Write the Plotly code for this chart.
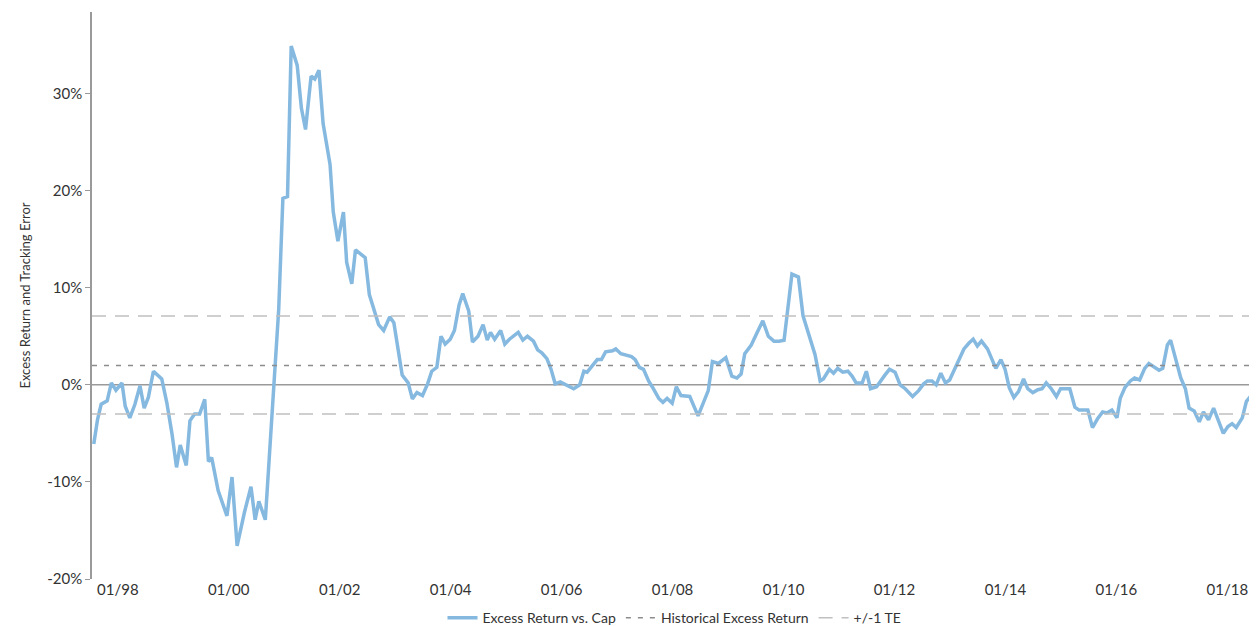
import pandas as pd
import plotly.graph_objects as go

# months since 01/1998 and excess return (%)
months = [-5.2, -4.4, -3.6, -2.3, -1.4, -0.4, 0.9, 1.6, 2.6, 3.7, 4.8, 5.7, 6.6, 7.7, 9.5, 10.6,
          11.7, 12.7, 13.5, 14.8, 15.6, 16.6, 17.7, 18.8, 19.6, 20.3, 21.7, 23.6, 24.7, 25.8,
          27.4, 28.8, 29.7, 30.5, 31.9, 32.7, 33.7, 34.8, 35.7, 36.7, 37.5, 38.8, 39.7, 40.6,
          41.8, 42.6, 43.5, 44.4, 45.9, 46.6, 47.6, 48.8, 49.5, 50.6, 51.4, 52.4, 53.5, 54.4,
          55.7, 56.4, 57.5, 58.8, 59.7, 60.7, 61.5, 62.8, 63.7, 64.7, 65.9,
          67.0, 67.9, 69.0, 69.9, 70.8, 71.9, 72.8, 73.8, 74.6, 75.9, 76.7, 77.9, 79.0, 79.9,
          80.6, 81.5, 82.8, 83.7, 84.7, 86.6, 87.6, 88.6, 89.9, 90.8, 91.7, 92.8, 93.7, 94.6,
          95.7, 96.8, 97.5, 98.6, 99.9, 100.8, 101.5, 102.6, 103.7, 104.6, 105.5, 107.0, 107.7,
          108.8, 110.1, 111.1, 111.9, 112.8, 113.7, 114.8, 115.7, 117.0, 117.9, 118.8, 119.9,
          120.8, 121.8, 123.7, 125.5, 126.6, 127.7, 128.6, 129.9, 131.5, 132.8, 133.9, 134.8,
          135.6, 137.0, 138.1, 139.5, 140.7, 141.9, 143.0, 144.1, 145.8, 147.2, 148.2, 149.5,
          150.8, 151.9, 152.6, 153.9, 154.8, 155.7, 156.8, 157.9, 158.8, 159.7, 161.0, 161.9,
          162.8, 164.1, 165.2, 165.9, 166.9, 168.1, 169.2, 170.3, 171.9, 173.2, 174.3, 175.1,
          176.1, 177.0, 178.0, 179.0, 179.9, 181.0, 181.9, 183.0, 184.1, 185.0, 185.9, 186.8,
          188.1, 189.0, 189.9, 191.0, 191.9, 192.8, 193.8, 194.8, 195.9, 196.8, 197.9, 199.0,
          199.9, 200.8, 201.9, 203.0, 203.9, 205.9, 207.0, 207.9, 209.8, 210.8, 211.9, 213.0,
          213.9, 215.0, 216.1, 216.8, 217.8, 219.0, 219.9, 221.0, 222.1, 223.0, 224.1, 225.2,
          226.0, 227.0, 227.7, 228.8, 229.9, 230.9, 231.7, 232.8, 233.9, 234.8, 235.9, 237.0,
          238.1, 239.1, 240.1, 241.0, 241.9, 243.2, 244.1, 244.8, 245.9, 247.0, 247.9, 248.5]
excess = [-6.1, -3.6, -2.0, -1.65, 0.2, -0.55, 0.2, -2.2, -3.4, -2.0, -0.1, -2.4, -1.3, 1.4, 0.6, -1.85,
          -5.0, -8.5, -6.2, -8.3, -3.7, -3.0, -3.0, -1.5, -7.9, -7.5, -10.9, -13.5, -9.5, -16.6,
          -13.1, -10.5, -13.9, -12.0, -13.9, -7.8, 0.1, 7.8, 19.2, 19.4, 34.9, 32.9, 28.5, 26.3,
          31.8, 31.5, 32.4, 26.9, 22.7, 17.8, 14.8, 17.8, 12.6, 10.4, 13.9, 13.5, 13.1, 9.3,
          7.2, 6.2, 5.6, 7.0, 6.4, 3.4, 1.0, 0.2, -1.45, -0.8, -1.1,
          0.1, 1.4, 1.8, 5.0, 4.2, 4.7, 5.6, 8.2, 9.4, 7.6, 4.4, 5.0, 6.2, 4.6,
          5.4, 4.7, 5.6, 4.2, 4.7, 5.4, 4.6, 5.0, 4.5, 3.6, 3.3, 2.7, 1.6, 0.1,
          0.3, 0.0, -0.1, -0.4, 0.0, 1.4, 1.3, 1.9, 2.6, 2.6, 3.4, 3.5, 3.7,
          3.2, 3.0, 2.9, 2.6, 1.8, 1.6, 0.4, -0.3, -1.4, -1.8, -1.4, -1.9,
          -0.2, -1.1, -1.2, -3.2, -1.8, -0.6, 2.4, 2.2, 2.8, 0.9, 0.7, 1.1,
          3.2, 4.1, 5.2, 6.6, 5.0, 4.5, 4.5, 4.6, 11.4, 11.1, 7.1, 5.1,
          3.1, 0.4, 0.6, 1.6, 1.2, 1.7, 1.3, 1.4, 0.9, 0.2, 0.2, 1.4,
          -0.4, -0.2, 0.6, 1.0, 1.6, 1.3, 0.0, -0.4, -1.2, -0.6, 0.1, 0.4,
          0.4, 0.0, 1.2, 0.2, 0.5, 1.7, 2.6, 3.7, 4.3, 4.7, 4.0, 4.5,
          3.7, 2.6, 1.7, 2.6, 1.6, -0.3, -1.3, -0.7, 0.6, -0.4, -0.8, -0.5,
          -0.4, 0.2, -0.4, -1.2, -0.4, -0.4, -2.3, -2.6, -2.6, -4.4, -3.5, -2.8,
          -2.9, -2.6, -3.4, -1.4, -0.3, 0.4, 0.7, 0.5, 1.7, 2.2, 1.8, 1.5,
          1.7, 4.1, 4.6, 2.7, 0.7, -0.4, -2.4, -2.7, -3.8, -2.8, -3.6, -2.4,
          -3.8, -5.0, -4.3, -4.0, -4.4, -3.4, -1.7, -1.3, -1.6, -1.0, -1.3, -1.8]
hist_excess = 2.0
te_upper = 7.1
te_lower = -3.0
tick_labels = ["01/98", "01/00", "01/02", "01/04", "01/06", "01/08",
               "01/10", "01/12", "01/14", "01/16", "01/18"]

start = pd.Timestamp("1998-01-01")
dates = [start + pd.Timedelta(days=m * 30.44) for m in months]
x0 = pd.Timestamp("1997-07-15")
x1 = pd.Timestamp("2018-07-15")
tick_vals = [pd.Timestamp(f"{1998 + 2 * i}-01-01") for i in range(len(tick_labels))]

fig = go.Figure()
fig.add_scatter(x=[x0, x1], y=[0, 0], mode="lines", showlegend=False,
                line=dict(color="#9a9a9a", width=1.5), hoverinfo="skip")
fig.add_scatter(x=dates, y=excess, mode="lines", name="Excess Return vs. Cap",
                line=dict(color="#85b9e0", width=3.5))
fig.add_scatter(x=[x0, x1], y=[hist_excess] * 2, mode="lines", name="Historical Excess Return",
                line=dict(color="#8c8c8c", width=1.5, dash="5px,7px"))
fig.add_scatter(x=[x0, x1], y=[te_upper] * 2, mode="lines", name="+/-1 TE", legendgroup="te",
                line=dict(color="#c0c0c0", width=1.5, dash="14px,9px"))
fig.add_scatter(x=[x0, x1], y=[te_lower] * 2, mode="lines", showlegend=False, legendgroup="te",
                line=dict(color="#c0c0c0", width=1.5, dash="14px,9px"))

# the page body has an 8px margin, so the figure is sized to fit inside it
fig.update_layout(width=1249, height=618, plot_bgcolor="white", paper_bgcolor="white",
                  margin=dict(l=84, r=0, t=4, b=47, autoexpand=False),
                  font=dict(family="Lato", size=15, color="#333"),
                  legend=dict(orientation="h", x=0.5, xanchor="center", y=-0.069, yanchor="middle",
                              font=dict(size=14), traceorder="normal"))
fig.update_xaxes(range=[x0, x1], tickvals=tick_vals, ticktext=tick_labels, automargin=False,
                 showgrid=False, showline=False, zeroline=False)
fig.update_yaxes(range=[-20, 38.4], tickvals=[-20, -10, 0, 10, 20, 30],
                 ticktext=["-20%", "-10%", "0%", "10%", "20%", "30%"], automargin=False,
                 showgrid=False, zeroline=False, showline=True, linecolor="#9a9a9a", linewidth=1.5,
                 ticks="outside", ticklen=5, tickcolor="#9a9a9a",
                 title=dict(text="Excess Return and Tracking Error", font=dict(size=13), standoff=14))

fig.write_html("out.html")
